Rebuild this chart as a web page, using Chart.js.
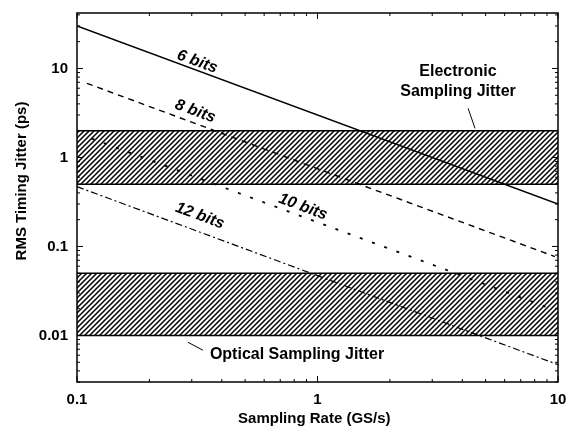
<!DOCTYPE html>
<html>
<head>
<meta charset="utf-8">
<script src="https://cdn.jsdelivr.net/npm/chart.js@4"></script>
<style>
  html, body { margin: 0; padding: 0; background: #fff; }
  #c { display: block; }
</style>
</head>
<body>
<canvas id="c" width="568" height="427"></canvas>
<script>
// ---- data ----
const bitLabels = ['6 bits', '8 bits', '10 bits', '12 bits'];
const rate6 = [0.1, 10];     const jitter6 = [30, 0.3];
const rate8 = [0.11, 9.7];   const jitter8 = [6.8, 0.077];
const rate10 = [0.115, 9.5]; const jitter10 = [1.63, 0.0197];
const rate12 = [0.1, 10];    const jitter12 = [0.47, 0.0047];
const bandRate = [0.1, 10];
const electronicBand = [0.5, 2];
const opticalBand = [0.01, 0.05];
const xTickValues = [0.1, 1, 10];
const yTickValues = [0.01, 0.1, 1, 10];
const xTitle = 'Sampling Rate (GS/s)';
const yTitle = 'RMS Timing Jitter (ps)';

const FONT = "'Liberation Sans', Arial, sans-serif";

function pts(xs, ys) { return xs.map((x, i) => ({ x: x, y: ys[i] })); }
function flat(xs, v) { return xs.map(x => ({ x: x, y: v })); }

// hatch pattern
function makeHatch() {
  const s = 5;
  const c = document.createElement('canvas');
  c.width = s; c.height = s;
  const g = c.getContext('2d');
  g.strokeStyle = '#000';
  g.lineWidth = 1.5;
  g.beginPath();
  g.moveTo(-s, s); g.lineTo(s, -s);
  g.moveTo(0, s); g.lineTo(s, 0);
  g.moveTo(0, 2 * s); g.lineTo(2 * s, 0);
  g.stroke();
  return document.getElementById('c').getContext('2d').createPattern(c, 'repeat');
}
const hatch = makeHatch();

// annotation placement (data coordinates)
const bitLabelPos = [
  { x: 0.316, y: 11.9, series: [rate6, jitter6] },
  { x: 0.31, y: 3.3, series: [rate8, jitter8] },
  { x: 0.87, y: 0.278, series: [rate10, jitter10] },
  { x: 0.324, y: 0.221, series: [rate12, jitter12] }
];

const decorPlugin = {
  id: 'decor',
  afterDraw(chart) {
    const ctx = chart.ctx;
    const xs = chart.scales.x, ys = chart.scales.y;
    const a = chart.chartArea;
    ctx.save();
    // frame
    ctx.strokeStyle = '#000';
    ctx.lineWidth = 1.5;
    ctx.strokeRect(a.left, a.top, a.right - a.left, a.bottom - a.top);
    // inward ticks
    ctx.lineWidth = 1;
    ctx.beginPath();
    for (let e = -1; e <= 1; e++) {
      for (let m = 1; m <= 9; m++) {
        const v = m * Math.pow(10, e);
        if (v < xs.min - 1e-9 || v > xs.max + 1e-9) continue;
        const px = xs.getPixelForValue(v);
        const L = m === 1 ? 6 : 3;
        ctx.moveTo(px, a.bottom); ctx.lineTo(px, a.bottom - L);
        ctx.moveTo(px, a.top); ctx.lineTo(px, a.top + L);
      }
    }
    for (let e = -3; e <= 1; e++) {
      for (let m = 1; m <= 9; m++) {
        const v = m * Math.pow(10, e);
        if (v < ys.min - 1e-12 || v > ys.max + 1e-9) continue;
        const py = ys.getPixelForValue(v);
        const L = m === 1 ? 6 : 3;
        ctx.moveTo(a.left, py); ctx.lineTo(a.left + L, py);
        ctx.moveTo(a.right, py); ctx.lineTo(a.right - L, py);
      }
    }
    ctx.stroke();

    ctx.fillStyle = '#000';
    ctx.textAlign = 'center';
    ctx.textBaseline = 'middle';
    // bit labels, rotated along their line
    bitLabelPos.forEach((p, i) => {
      const sx = p.series[0], sy = p.series[1];
      const x1 = xs.getPixelForValue(sx[0]), y1 = ys.getPixelForValue(sy[0]);
      const x2 = xs.getPixelForValue(sx[sx.length - 1]), y2 = ys.getPixelForValue(sy[sy.length - 1]);
      const ang = Math.atan2(y2 - y1, x2 - x1);
      ctx.save();
      ctx.translate(xs.getPixelForValue(p.x), ys.getPixelForValue(p.y));
      ctx.rotate(ang);
      ctx.font = 'italic bold 16px ' + FONT;
      ctx.fillText(bitLabels[i], 0, 0);
      ctx.restore();
    });
    // band labels
    ctx.font = 'bold 16px ' + FONT;
    ctx.fillText('Electronic', xs.getPixelForValue(3.84), ys.getPixelForValue(9.2));
    ctx.fillText('Sampling Jitter', xs.getPixelForValue(3.84), ys.getPixelForValue(5.5));
    ctx.fillText('Optical Sampling Jitter', xs.getPixelForValue(0.822), ys.getPixelForValue(0.00617));
    ctx.lineWidth = 1;
    ctx.beginPath();
    ctx.moveTo(xs.getPixelForValue(4.23), ys.getPixelForValue(3.56));
    ctx.lineTo(xs.getPixelForValue(4.52), ys.getPixelForValue(2.12));
    ctx.moveTo(xs.getPixelForValue(0.289), ys.getPixelForValue(0.00839));
    ctx.lineTo(xs.getPixelForValue(0.334), ys.getPixelForValue(0.00683));
    ctx.stroke();
    // axis titles
    ctx.font = 'bold 15px ' + FONT;
    ctx.fillText(xTitle, xs.getPixelForValue(0.97), 419);
    ctx.save();
    ctx.translate(22, 181);
    ctx.rotate(-Math.PI / 2);
    ctx.fillText(yTitle, 0, 0);
    ctx.restore();
    ctx.restore();
  }
};

function zeroPad(s) { s.paddingLeft = 0; s.paddingRight = 0; s.paddingTop = 0; s.paddingBottom = 0; }

const lineBase = { pointRadius: 0, borderColor: '#000', fill: false, tension: 0, order: 0 };
const bandBase = { pointRadius: 0, borderColor: '#000', borderWidth: 1.5, tension: 0, order: 1 };

new Chart(document.getElementById('c'), {
  type: 'line',
  data: {
    datasets: [
      Object.assign({}, bandBase, { data: flat(bandRate, electronicBand[1]), fill: '+1', backgroundColor: hatch }),
      Object.assign({}, bandBase, { data: flat(bandRate, electronicBand[0]), fill: false }),
      Object.assign({}, bandBase, { data: flat(bandRate, opticalBand[1]), fill: '+1', backgroundColor: hatch }),
      Object.assign({}, bandBase, { data: flat(bandRate, opticalBand[0]), fill: false }),
      Object.assign({}, lineBase, { label: bitLabels[0], data: pts(rate6, jitter6), borderWidth: 1.4 }),
      Object.assign({}, lineBase, { label: bitLabels[1], data: pts(rate8, jitter8), borderWidth: 1.4, borderDash: [6, 5] }),
      Object.assign({}, lineBase, { label: bitLabels[2], data: pts(rate10, jitter10), borderWidth: 1.8, borderDash: [3, 10] }),
      Object.assign({}, lineBase, { label: bitLabels[3], data: pts(rate12, jitter12), borderWidth: 1.2, borderDash: [7, 3, 2, 3] })
    ]
  },
  options: {
    responsive: false,
    animation: false,
    events: [],
    layout: { padding: { top: 13, right: 10, left: 0, bottom: 0 } },
    plugins: { legend: { display: false }, tooltip: { enabled: false } },
    scales: {
      x: {
        type: 'logarithmic', min: 0.1, max: 10,
        grid: { display: false, drawTicks: false },
        border: { display: false },
        afterBuildTicks: s => { s.ticks = xTickValues.map(v => ({ value: v })); },
        afterFit: s => { s.height = 45; zeroPad(s); },
        ticks: {
          autoSkip: false, maxRotation: 0, padding: 9, color: '#000',
          font: { family: FONT, size: 15, weight: 'bold' },
          callback: v => String(v)
        }
      },
      y: {
        type: 'logarithmic', min: 0.003, max: 42,
        grid: { display: false, drawTicks: false },
        border: { display: false },
        afterBuildTicks: s => { s.ticks = yTickValues.map(v => ({ value: v })); },
        afterFit: s => { s.width = 77; zeroPad(s); },
        ticks: {
          autoSkip: false, padding: 9, color: '#000',
          font: { family: FONT, size: 15, weight: 'bold' },
          callback: v => String(v)
        }
      }
    }
  },
  plugins: [decorPlugin]
});
</script>
</body>
</html>
